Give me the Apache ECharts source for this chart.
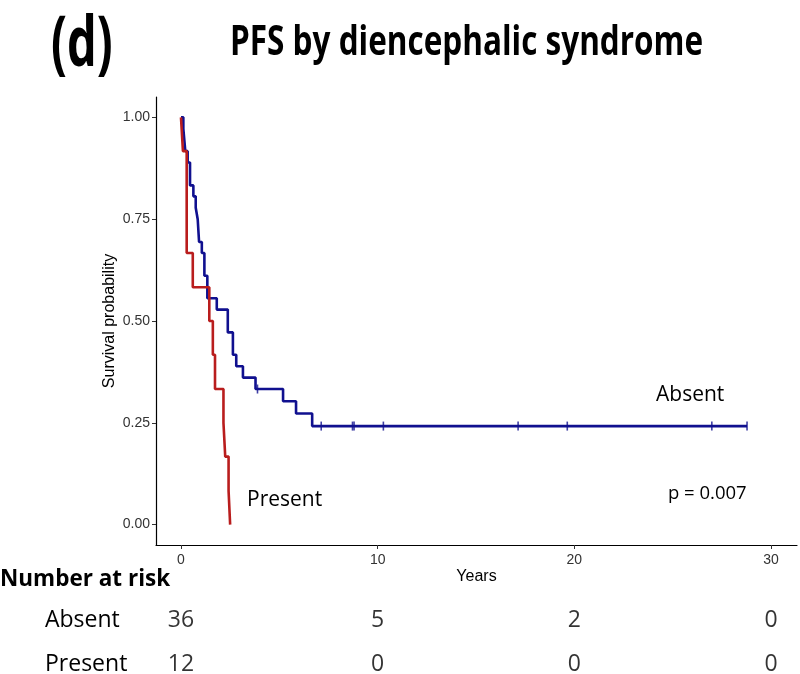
<!DOCTYPE html>
<html>
<head>
<meta charset="utf-8">
<script src="https://cdn.jsdelivr.net/npm/echarts@6/dist/echarts.min.js"></script>
<style>html,body{margin:0;padding:0;background:#fff}#c{width:800px;height:674px}</style>
</head>
<body>
<div id="c"></div>
<script>
// ---- data ----
const absentTimes = [0, 0.12, 0.22, 0.34, 0.46, 0.63, 0.75, 0.85, 0.92, 1.06, 1.19, 1.34, 1.82, 2.38, 2.64, 2.81, 3.15, 3.79, 5.19, 5.85, 6.67, 28.78];
const absentSurv  = [1, 0.972, 0.917, 0.889, 0.833, 0.806, 0.778, 0.75, 0.694, 0.667, 0.611, 0.556, 0.528, 0.472, 0.417, 0.389, 0.361, 0.333, 0.303, 0.273, 0.242, 0.242];
const absentCensorTimes = [3.89, 7.13, 8.72, 8.80, 10.29, 17.14, 19.64, 26.99, 28.78];
const presentTimes = [0, 0.1, 0.29, 0.6, 1.44, 1.62, 1.73, 2.16, 2.25, 2.42, 2.5];
const presentSurv  = [1, 0.917, 0.667, 0.583, 0.5, 0.417, 0.333, 0.25, 0.167, 0.083, 0];
const xTicks = [0, 10, 20, 30];
const yTicks = [0, 0.25, 0.5, 0.75, 1];
const riskGroups = ['Absent', 'Present'];
const riskTimes = [0, 10, 20, 30];
const absentRisk = [36, 5, 2, 0];
const presentRisk = [12, 0, 0, 0];
const pValueText = 'p = 0.007';

// ---- build ----
function survAt(times, surv, t) {
  let s = surv[0];
  for (let i = 0; i < times.length; i++) { if (times[i] <= t) s = surv[i]; }
  return s;
}
const absentLine = absentTimes.map((t, i) => [t, absentSurv[i]]);
const presentLine = presentTimes.map((t, i) => [t, presentSurv[i]]);
const absentCensor = absentCensorTimes.map(t => [t, survAt(absentTimes, absentSurv, t)]);
const riskData = [];
riskTimes.forEach((t, i) => {
  riskData.push([t, 'Absent', absentRisk[i]]);
  riskData.push([t, 'Present', presentRisk[i]]);
});

const BLUE = '#10108f', RED = '#b91d1d';
const XMIN = -1.27, XMAX = 31.32;
const chart = echarts.init(document.getElementById('c'));
chart.setOption({
  animation: false,
  grid: [
    {left: 156, right: 3, top: 97, bottom: 129, outerBoundsMode: 'none'},
    {left: 156, right: 3, top: 598, height: 88, outerBoundsMode: 'none'}
  ],
  xAxis: [
    {type: 'value', gridIndex: 0, min: XMIN, max: XMAX,
     axisLine: {show: true, onZero: false, lineStyle: {color: '#000', width: 1.2}},
     axisTick: {show: true, length: 4, customValues: xTicks, lineStyle: {color: '#333'}},
     axisLabel: {customValues: xTicks, color: '#333', fontSize: 14, fontFamily: 'Liberation Sans', margin: 8},
     splitLine: {show: false},
     name: 'Years', nameLocation: 'middle', nameGap: 24, nameMoveOverlap: false,
     nameTextStyle: {color: '#000', fontSize: 16, fontFamily: 'Liberation Sans'}},
    {type: 'value', gridIndex: 1, min: XMIN, max: XMAX, show: false}
  ],
  yAxis: [
    {type: 'value', gridIndex: 0, min: -0.05, max: 1.05,
     axisLine: {show: true, onZero: false, lineStyle: {color: '#000', width: 1.2}},
     axisTick: {show: true, length: 4, customValues: yTicks, lineStyle: {color: '#333'}},
     axisLabel: {customValues: yTicks, color: '#333', fontSize: 14, fontFamily: 'Liberation Sans', margin: 6,
                 formatter: v => v.toFixed(2)},
     splitLine: {show: false},
     name: 'Survival probability', nameLocation: 'middle', nameGap: 38, nameMoveOverlap: false,
     nameTextStyle: {color: '#000', fontSize: 16, fontFamily: 'Liberation Sans'}},
    {type: 'category', gridIndex: 1, data: riskGroups, inverse: true,
     axisLine: {show: false}, axisTick: {show: false},
     axisLabel: {align: 'left', margin: 111, color: '#000', fontSize: 23, fontFamily: 'Open Sans'}}
  ],
  series: [
    {type: 'line', step: 'end', data: absentLine, showSymbol: false, symbol: 'none',
     lineStyle: {color: BLUE, width: 2.6}, z: 3},
    {type: 'line', step: 'end', data: presentLine, showSymbol: false, symbol: 'none',
     lineStyle: {color: RED, width: 2.6}, z: 4},
    {type: 'scatter', data: absentCensor, symbol: 'rect', symbolSize: [1.6, 9],
     itemStyle: {color: BLUE}, z: 5},
    {type: 'scatter', xAxisIndex: 1, yAxisIndex: 1, data: riskData, symbolSize: 0,
     label: {show: true, position: 'inside', formatter: p => String(p.value[2]),
             color: '#000', fontSize: 23, fontFamily: 'Open Sans'}}
  ],
  graphic: [
    {type: 'text', x: 51, y: 46, scaleY: 1.5,
     style: {text: '(d)', font: 'bold 47px "Open Sans"', fill: '#000', textVerticalAlign: 'middle'}},
    {type: 'text', x: 230, y: 43, scaleY: 1.3,
     style: {text: 'PFS by diencephalic syndrome', font: 'bold 31.5px "Open Sans"', fill: '#000', textVerticalAlign: 'middle'}},
    {type: 'text', x: 0, y: 580, style: {text: 'Number at risk', font: 'bold 22.5px "Open Sans"', fill: '#000', textVerticalAlign: 'middle'}},
    {type: 'text', x: 656, y: 395, style: {text: 'Absent', font: '21px "Open Sans"', fill: '#000', textVerticalAlign: 'middle'}},
    {type: 'text', x: 247, y: 500, style: {text: 'Present', font: '21px "Open Sans"', fill: '#000', textVerticalAlign: 'middle'}},
    {type: 'text', x: 668, y: 494, style: {text: pValueText, font: '18.5px "Open Sans"', fill: '#000', textVerticalAlign: 'middle'}}
  ]
});
</script>
</body>
</html>
